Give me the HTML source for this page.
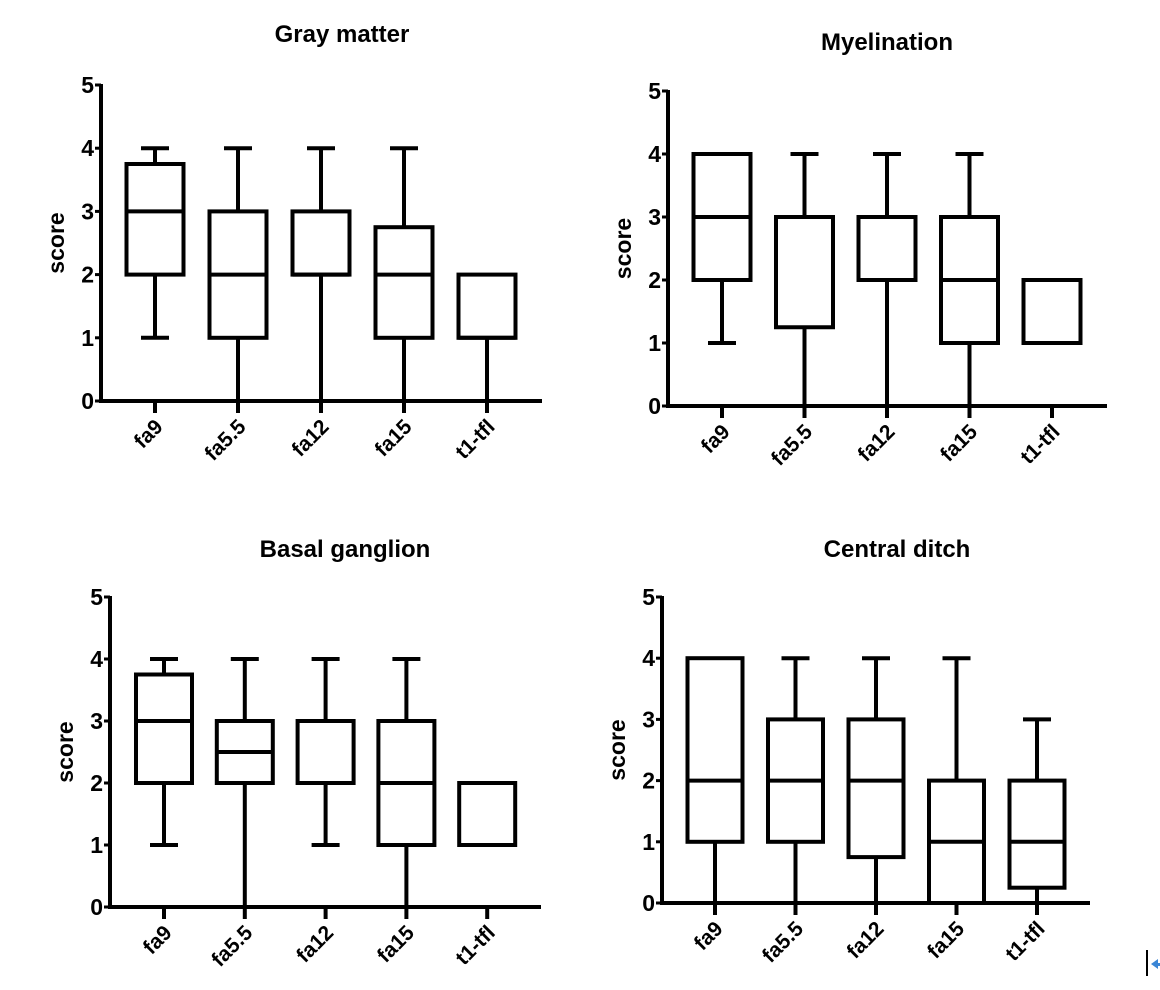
<!DOCTYPE html>
<html><head><meta charset="utf-8"><style>
html,body{margin:0;padding:0;background:#fff;width:1160px;height:990px;overflow:hidden}
svg{display:block}
text{font-family:"Liberation Sans",Arial,sans-serif;font-weight:bold;fill:#000}
</style></head><body>
<svg id="chart" width="1160" height="990" viewBox="0 0 1160 990" xmlns="http://www.w3.org/2000/svg">
<line x1="1147" y1="950" x2="1147" y2="976" stroke="#000" stroke-width="2"/>
<path d="M1151 964 L1158 959 L1158 969 Z M1156 963 L1160 963 L1160 966 L1156 966 Z" fill="#3a86d6"/>
</svg>
<script>
const categories = ["fa9","fa5.5","fa12","fa15","t1-tfl"];
const yTicks = [0,1,2,3,4,5];
const titles = ["Gray matter","Myelination","Basal ganglion","Central ditch"];
// each box: [min, q1, median, q3, max]
const grayMatter = [[1,2,3,3.75,4],[0,1,2,3,4],[0,2,2,3,4],[0,1,2,2.75,4],[0,1,1,2,2]];
const myelination = [[1,2,3,4,4],[0,1.25,3,3,4],[0,2,2,3,4],[0,1,2,3,4],[1,1,1,2,2]];
const basalGanglion = [[1,2,3,3.75,4],[0,2,2.5,3,4],[1,2,2,3,4],[0,1,2,3,4],[1,1,1,2,2]];
const centralDitch = [[0,1,2,4,4],[0,1,2,3,4],[0,0.75,2,3,4],[0,0,1,2,4],[0,0.25,1,2,3]];
const panelData = [grayMatter, myelination, basalGanglion, centralDitch];

const layout = [
  {ax:101, y0:401, y5:85, x0:155, step:83, end:542, bw:57, tx:342, ty:42},
  {ax:668, y0:406, y5:91, x0:722, step:82.5, end:1107, bw:57, tx:887, ty:50},
  {ax:110, y0:907, y5:597, x0:164, step:80.8, end:541, bw:56, tx:345, ty:557},
  {ax:662, y0:903, y5:597, x0:715, step:80.5, end:1090, bw:55, tx:897, ty:557}
];
const NS = "http://www.w3.org/2000/svg";
const svg = document.getElementById("chart");
function mk(tag, attrs, parent){
  const e = document.createElementNS(NS, tag);
  for (const k in attrs) e.setAttribute(k, attrs[k]);
  (parent||svg).appendChild(e);
  return e;
}
const LW = 4;
panelData.forEach((data, p) => {
  const L = layout[p];
  const g = mk("g", {});
  
  
  const y = v => L.y0 + (L.y5 - L.y0) * v / 5;
  const x = i => L.x0 + L.step * i;
  const t = mk("text", {x:L.tx, y:L.ty, "text-anchor":"middle", "font-size":"24"}, g);
  t.textContent = titles[p];
  
  
  const yt = mk("text", {x:0, y:0, "text-anchor":"middle", "font-size":"23", transform:`translate(${L.ax-37},${(L.y0+L.y5)/2}) rotate(-90)`}, g);
  yt.textContent = "score";
  
  
  const ya = mk("line", {x1:L.ax, y1:L.y5-1, x2:L.ax, y2:L.y0+2, stroke:"#000", "stroke-width":LW}, g);
  
  
  const xa = mk("line", {x1:L.ax-2, y1:L.y0, x2:L.end, y2:L.y0, stroke:"#000", "stroke-width":LW}, g);
  
  
  yTicks.forEach(v => {
    mk("line", {x1:L.ax-6, y1:y(v), x2:L.ax, y2:y(v), stroke:"#000", "stroke-width":3}, g);
    const tl = mk("text", {x:L.ax-7, y:y(v)+8, "text-anchor":"end", "font-size":"23"}, g);
    tl.textContent = v;
    
    
  });
  categories.forEach((c, i) => {
    mk("line", {x1:x(i), y1:L.y0, x2:x(i), y2:L.y0+12, stroke:"#000", "stroke-width":LW}, g);
    const cl = mk("text", {x:0, y:0, "text-anchor":"end", "font-size":"21", transform:`translate(${x(i)+9},${L.y0+27}) rotate(-45)`}, g);
    cl.textContent = c;
    
    
    const d = data[i];
    const bg = mk("g", {}, g);
    
    
    const hw = L.bw/2, cw = 14;
    const attr = {stroke:"#000", "stroke-width":LW, fill:"none", "stroke-linecap":"butt"};
    if (d[4] > d[3]) {
      mk("line", Object.assign({x1:x(i), y1:y(d[3]), x2:x(i), y2:y(d[4])}, attr), bg);
      mk("line", Object.assign({x1:x(i)-cw, y1:y(d[4]), x2:x(i)+cw, y2:y(d[4])}, attr), bg);
    }
    if (d[0] < d[1]) {
      mk("line", Object.assign({x1:x(i), y1:y(d[1]), x2:x(i), y2:y(d[0])}, attr), bg);
      if (d[0] > 0) mk("line", Object.assign({x1:x(i)-cw, y1:y(d[0]), x2:x(i)+cw, y2:y(d[0])}, attr), bg);
    }
    mk("rect", Object.assign({x:x(i)-hw, y:y(d[3]), width:L.bw, height:y(d[1])-y(d[3])}, attr), bg);
    mk("line", Object.assign({x1:x(i)-hw, y1:y(d[2]), x2:x(i)+hw, y2:y(d[2])}, attr), bg);
  });
});
</script>
</body></html>
